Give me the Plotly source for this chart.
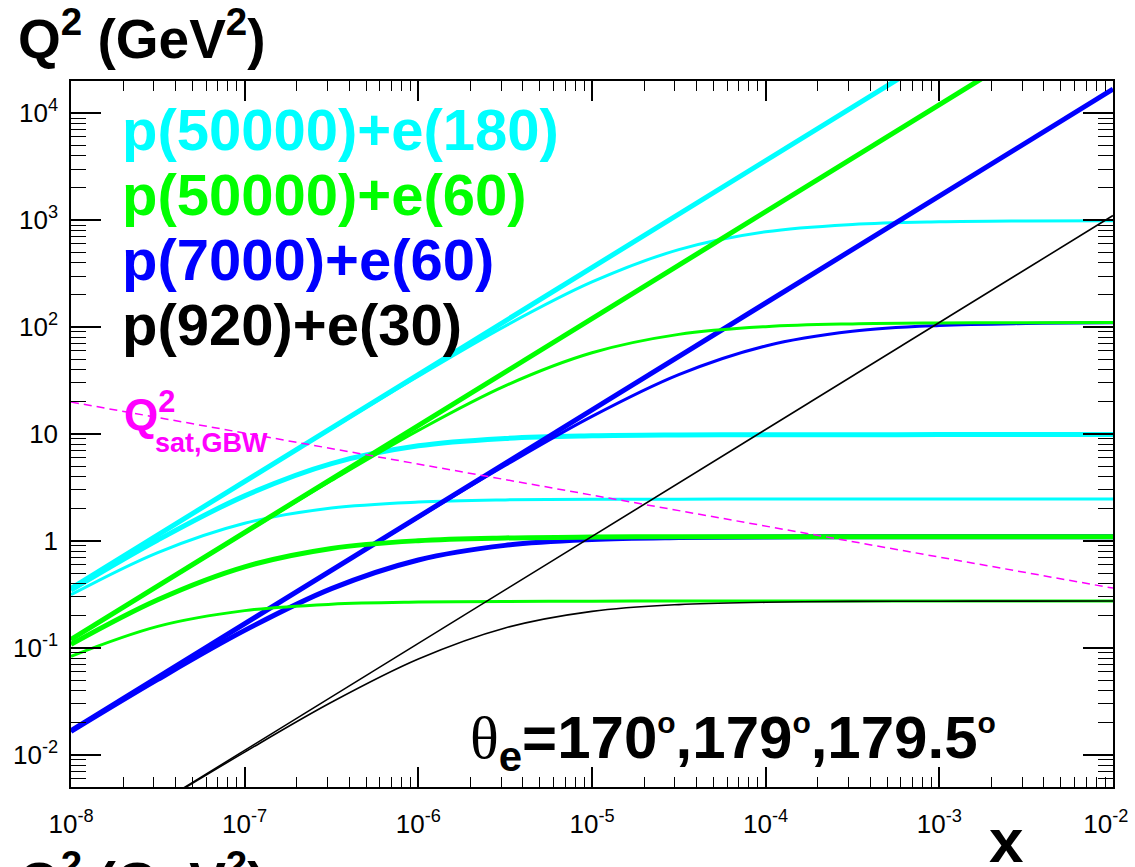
import plotly.graph_objects as go

# ---------------- data ----------------
x_ends = [1e-8, 1e-2]
x_pts = [1e-8, 3.16e-8, 1e-7, 3.16e-7, 1e-6, 3.16e-6, 1e-5,
         3.16e-5, 1e-4, 3.16e-4, 1e-3, 3.16e-3, 1e-2]

# kinematic limit (y = 1) straight lines, values at x = 1e-8 and 1e-2
lim_p50000_e180 = [0.36, 3.6e5]
lim_p50000_e60 = [0.12, 1.2e5]
lim_p7000_e60 = [0.0168, 1.68e4]
lim_p920_e30 = [0.0011, 1104]

# fixed electron angle curves, values at x_pts
cyan_170 = [0.360, 1.137, 3.59, 11.25, 34.7, 102.1, 264, 530, 778, 912, 965, 983, 989]
cyan_179 = [0.347, 1.020, 2.64, 5.29, 7.75, 9.08, 9.61, 9.79, 9.85, 9.86, 9.87, 9.87, 9.87]
cyan_1795 = [0.314, 0.779, 1.465, 2.03, 2.31, 2.42, 2.45, 2.46, 2.47, 2.47, 2.47, 2.47, 2.47]

green_170 = [0.120, 0.378, 1.187, 3.67, 10.8, 28.2, 57.5, 85.4, 100.9, 107.1, 109.2, 109.9, 110.1]
green_179 = [0.108, 0.282, 0.573, 0.851, 1.005, 1.066, 1.087, 1.094, 1.096, 1.097, 1.097, 1.097, 1.097]
green_1795 = [0.0835, 0.159, 0.223, 0.256, 0.268, 0.272, 0.2734, 0.2738, 0.274, 0.274, 0.274, 0.274, 0.274]

blue_170 = [0.0168, 0.0531, 0.168, 0.529, 1.655, 5.07, 14.6, 35.9, 66.6, 91.3, 103.4, 108.0, 109.5]
blue_179 = [0.01655, 0.0507, 0.1457, 0.358, 0.664, 0.909, 1.030, 1.075, 1.090, 1.095, 1.096, 1.097, 1.097]

black_179 = [0.0011, 0.00345, 0.0106, 0.031, 0.0787, 0.1535, 0.2195, 0.254, 0.267, 0.272, 0.2733, 0.2738, 0.274]

# GBW saturation scale, values at x = 1e-8 and 1e-2
q2sat_gbw = [19.9, 0.362]

x_tickvals = [1e-8, 1e-7, 1e-6, 1e-5, 1e-4, 1e-3, 1e-2]
x_ticktext = ["10<sup>-8</sup>", "10<sup>-7</sup>", "10<sup>-6</sup>", "10<sup>-5</sup>",
              "10<sup>-4</sup>", "10<sup>-3</sup>", "10<sup>-2</sup>&nbsp;&nbsp;"]
y_tickvals = [1e-2, 1e-1, 1, 10, 1e2, 1e3, 1e4]
y_ticktext = ["10<sup>-2</sup>", "10<sup>-1</sup>", "1", "10",
              "10<sup>2</sup>", "10<sup>3</sup>", "10<sup>4</sup>"]

legend_labels = ["p(50000)+e(180)", "p(50000)+e(60)", "p(7000)+e(60)", "p(920)+e(30)"]

# ---------------- styling ----------------
CYAN = "rgb(0,255,255)"
GREEN = "rgb(0,255,0)"
BLUE = "rgb(0,0,255)"
BLACK = "rgb(0,0,0)"
MAGENTA = "rgb(255,0,255)"
THICK = 5
THIN = 3
SANS = "Liberation Sans, Arial, Helvetica, sans-serif"

fig = go.Figure()


def add_line(x, y, color, width, spline=False, dash=None):
    fig.add_trace(go.Scatter(
        x=x, y=y, mode="lines",
        line=dict(color=color, width=width, shape="spline" if spline else "linear",
                  dash=dash),
        hoverinfo="skip", showlegend=False))


# cyan
add_line(x_ends, lim_p50000_e180, CYAN, THICK)
add_line(x_pts, cyan_170, CYAN, THIN, True)
add_line(x_pts, cyan_179, CYAN, THICK, True)
add_line(x_pts, cyan_1795, CYAN, THIN, True)
# blue
add_line(x_ends, lim_p7000_e60, BLUE, THICK)
add_line(x_pts, blue_170, BLUE, THIN, True)
add_line(x_pts, blue_179, BLUE, THICK, True)
# green
add_line(x_ends, lim_p50000_e60, GREEN, THICK)
add_line(x_pts, green_170, GREEN, THIN, True)
add_line(x_pts, green_179, GREEN, THICK, True)
add_line(x_pts, green_1795, GREEN, THIN, True)
# black
add_line(x_ends, lim_p920_e30, BLACK, 1.6)
add_line(x_pts, black_179, BLACK, 1.6, True)
# GBW
add_line(x_ends, q2sat_gbw, MAGENTA, 1.5, dash="8px,5px")

x_minor = [m * 10 ** e for e in range(-8, -2) for m in range(2, 10)]
y_minor = [m * 10.0 ** e for e in range(-3, 5) for m in range(2, 10)
           if 5e-3 <= m * 10.0 ** e <= 2e4]

axis_common = dict(
    type="log", showgrid=False, zeroline=False, showline=True,
    linecolor="black", linewidth=1.5, mirror="ticks",
    ticks="inside", tickcolor="black", tickwidth=1.5,
    tickfont=dict(family=SANS, size=26, color="black"),
    automargin=False, ticklabeloverflow="allow",
)

fig.update_xaxes(
    **axis_common, range=[-8, -2], tickvals=x_tickvals, ticktext=x_ticktext,
    ticklen=20, ticklabelstandoff=13,
    minor=dict(ticks="inside", ticklen=10, tickwidth=1.2, tickcolor="black",
               tickvals=x_minor, showgrid=False),
)
fig.update_yaxes(
    **axis_common, range=[-2.301, 4.301], tickvals=y_tickvals, ticktext=y_ticktext,
    ticklen=30, ticklabelstandoff=6,
    minor=dict(ticks="inside", ticklen=15, tickwidth=1.2, tickcolor="black",
               tickvals=y_minor, showgrid=False),
)

L, R, T, B = 71, 22, 81, 80
W, H = 1135, 867
PW, PH = W - L - R, H - T - B


def px(xp):
    return (xp - L) / PW


def py(yp):
    return (H - B - yp) / PH


annotations = []
title = "Q<sup>2</sup> (GeV<sup>2</sup>)"
title_mid = 35
annotations.append(dict(text=title, x=px(16), y=py(title_mid), xanchor="left", yanchor="middle",
                        font=dict(family=SANS, size=55, color="black", weight="bold")))
annotations.append(dict(text=title, x=px(16), y=py(title_mid + 843), xanchor="left",
                        yanchor="middle",
                        font=dict(family=SANS, size=55, color="black", weight="bold")))

leg_colors = [CYAN, GREEN, BLUE, BLACK]
leg_mid = [129, 194, 259, 324]
for lab, col, ym in zip(legend_labels, leg_colors, leg_mid):
    annotations.append(dict(text=lab, x=px(120), y=py(ym), xanchor="left", yanchor="middle",
                            font=dict(family=SANS, size=58, color=col, weight="bold")))

annotations.append(dict(text="Q<sup>2</sup>", x=px(122), y=py(411), xanchor="left",
                        yanchor="middle",
                        font=dict(family=SANS, size=44, color=MAGENTA, weight="bold")))
annotations.append(dict(text="sat,GBW", x=px(153), y=py(443), xanchor="left",
                        yanchor="middle",
                        font=dict(family=SANS, size=27, color=MAGENTA, weight="bold")))

deg = "<sup><span style=\"font-size:30px\">o</span></sup>"
theta = ("<span style=\"font-family:'Liberation Serif', 'Times New Roman', serif;"
         "font-weight:normal\">θ</span><sub>e</sub>=170" + deg + ",179" + deg +
         ",179.5" + deg)
annotations.append(dict(text=theta, x=px(468), y=py(742), xanchor="left", yanchor="middle",
                        font=dict(family=SANS, size=60, color="black", weight="bold")))

annotations.append(dict(text="x", x=px(1006), y=py(840), xanchor="center", yanchor="middle",
                        font=dict(family=SANS, size=62, color="black", weight="bold")))

for a in annotations:
    a.update(xref="paper", yref="paper", showarrow=False)

fig.update_layout(
    width=W, height=H,
    margin=dict(l=L, r=R, t=T, b=B),
    paper_bgcolor="white", plot_bgcolor="white",
    annotations=annotations,
    showlegend=False,
)

fig.write_html("out.html")
